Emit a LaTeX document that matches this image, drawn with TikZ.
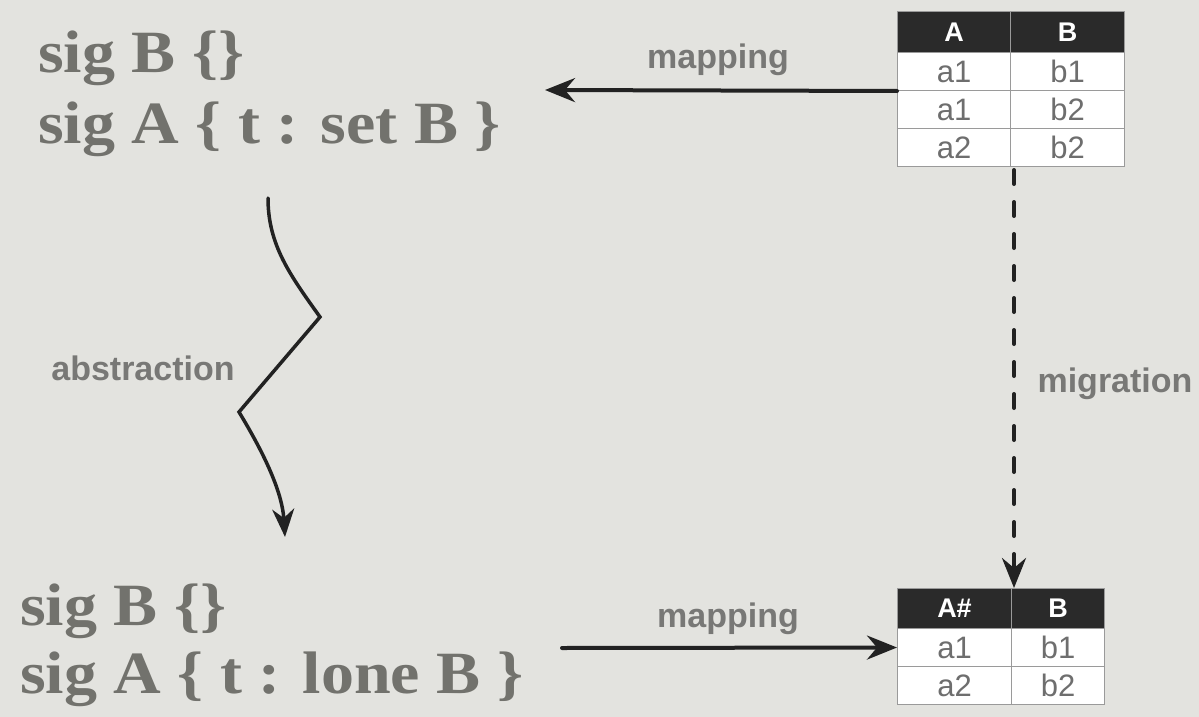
\documentclass[tikz,border=0pt]{standalone}
\usepackage{fontspec}
\usepackage{graphicx}
\setmainfont{Liberation Serif}
\newfontfamily\sansf{Liberation Sans}
\usetikzlibrary{arrows.meta}
\definecolor{bgc}{HTML}{E3E3DF}
\definecolor{sigc}{HTML}{72726D}
\definecolor{labc}{HTML}{787876}
\definecolor{hdc}{HTML}{2A2A2A}
\definecolor{gridc}{HTML}{9A9A9A}
\definecolor{cellc}{HTML}{6E6E6E}
\definecolor{linec}{HTML}{222222}
\begin{document}
\begin{tikzpicture}[x=1pt,y=-1pt,
  sigtext/.style={anchor=base west, inner sep=0pt, text=sigc, font=\bfseries\fontsize{60}{70}\selectfont},
  lab/.style={anchor=base, inner sep=0pt, text=labc, font=\sansf\bfseries\fontsize{34}{40}\selectfont},
  hcell/.style={draw=gridc, line width=1pt, fill=hdc, text=white, anchor=north west, inner sep=0pt, font=\sansf\bfseries\fontsize{27}{30}\selectfont},
  bcell/.style={draw=gridc, line width=1pt, fill=white, text=cellc, anchor=north west, inner sep=0pt, font=\sansf\fontsize{31}{32}\selectfont},
  tip/.style={-{Stealth[length=30pt,width=24pt,inset=10pt]}},
  conn/.style={draw=linec, line width=4pt, line cap=round, tip},
]
\useasboundingbox (0,0) rectangle (1199,717);
\fill[bgc] (0,0) rectangle (1199,717);

% code texts
\node[sigtext] (s1) at (38,72) {\scalebox{1.1}[1]{sig B \{\}}};
\node[sigtext] (s2) at (38,143) {\scalebox{1.1}[1]{sig A \{ t : set B \}}};
\node[sigtext] (s3) at (20,625) {\scalebox{1.1}[1]{sig B \{\}}};
\node[sigtext] (s4) at (20,693) {\scalebox{1.1}[1]{sig A \{ t : lone B \}}};

% top table
\node[hcell, minimum width=113pt, minimum height=41pt] (ah) at (897,11) {A};
\node[hcell, minimum width=114pt, minimum height=41pt] (bh) at (1010,11) {B};
\node[bcell, minimum width=113pt, minimum height=38pt] (a1) at (897,52) {a1};
\node[bcell, minimum width=114pt, minimum height=38pt] (b1) at (1010,52) {b1};
\node[bcell, minimum width=113pt, minimum height=38pt] (a2) at (897,90) {a1};
\node[bcell, minimum width=114pt, minimum height=38pt] (b2) at (1010,90) {b2};
\node[bcell, minimum width=113pt, minimum height=38pt] (a3) at (897,128) {a2};
\node[bcell, minimum width=114pt, minimum height=38pt] (b3) at (1010,128) {b2};

% bottom table
\node[hcell, minimum width=114pt, minimum height=40pt] (ch) at (897,588) {A\#};
\node[hcell, minimum width=93pt, minimum height=40pt] (dh) at (1011,588) {B};
\node[bcell, minimum width=114pt, minimum height=38pt] (c1) at (897,628) {a1};
\node[bcell, minimum width=93pt, minimum height=38pt] (d1) at (1011,628) {b1};
\node[bcell, minimum width=114pt, minimum height=38pt] (c2) at (897,666) {a2};
\node[bcell, minimum width=93pt, minimum height=38pt] (d2) at (1011,666) {b2};

% labels
\node[lab] (m1) at (718,69) {mapping};
\node[lab] (m2) at (728,627) {mapping};
\node[lab] (abs) at (143,380) {abstraction};
\node[lab] (mig) at (1115,392) {migration};

% connectors
\coordinate (ta) at (545,90);
\coordinate (bs) at (562,648);
\draw[conn] (a1.south west) -- (ta);
\draw[conn] (bs) -- (c1.west);

\draw[draw=linec, line width=4pt, line cap=round, dash pattern=on 14pt off 18pt, tip]
  ([xshift=3pt,yshift=-3pt]a3.south east) -- ([xshift=2pt]ch.north east);

\coordinate (z0) at (268,198);
\coordinate (z1) at (320,317);
\coordinate (z2) at (239,412);
\coordinate (z3) at (285,537);
\draw[draw=linec, line width=3.5pt, line cap=round, line join=miter,
  -{Stealth[length=28pt,width=22pt,inset=9pt]}]
  (z0) .. controls (268,245) and (290,275) .. (z1) -- (z2)
  .. controls (262,450) and (282,490) .. (z3);
\end{tikzpicture}
\end{document}
